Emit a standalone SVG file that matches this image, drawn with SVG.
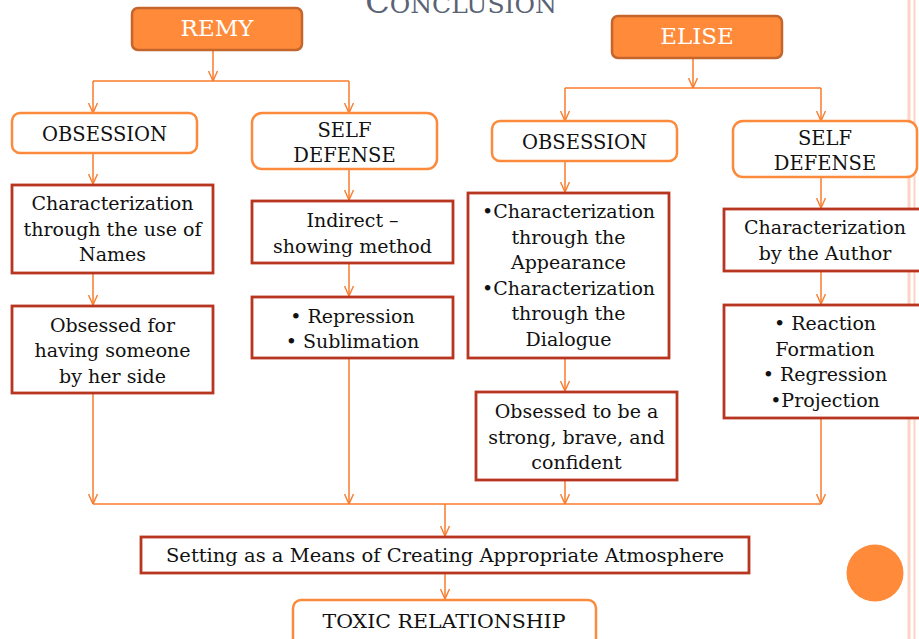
<svg xmlns="http://www.w3.org/2000/svg" width="919" height="639" viewBox="0 0 919 639">
<defs>
<marker id="arr" viewBox="0 0 10 10" refX="10" refY="5" markerWidth="10" markerHeight="10" markerUnits="userSpaceOnUse" orient="auto">
<path d="M0,0.5 L10,5 L0,9.5" fill="none" stroke="#f97b2b" stroke-width="1.4"/>
</marker>
</defs>
<style>
.t{font-family:"DejaVu Serif","Liberation Serif",serif;font-size:19px;fill:#111;text-anchor:middle}
.cap{font-size:19.5px}
.head{fill:#fe8a3a;stroke:#c4652c;stroke-width:2.5}
.ht{font-family:"DejaVu Serif","Liberation Serif",serif;font-size:23px;fill:#fff;text-anchor:middle}
.rb{fill:#fff;stroke:#fb8a3c;stroke-width:2.5}
.sb{fill:#fff;stroke:#b8361f;stroke-width:2.8}
.c{fill:none;stroke:#f97b2b;stroke-width:1.5}
.ca{fill:none;stroke:#f97b2b;stroke-width:1.5;marker-end:url(#arr)}
</style>
<rect width="919" height="639" fill="#fff"/>
<line x1="909" y1="0" x2="909" y2="639" stroke="#fdd3c4" stroke-width="3"/>
<line x1="914.5" y1="0" x2="914.5" y2="639" stroke="#fdd3c4" stroke-width="2"/>
<circle cx="875" cy="573" r="28.5" fill="#fe8a3a"/>
<text x="461" y="13" style="font-family:'DejaVu Serif','Liberation Serif',serif;fill:#5a6374;text-anchor:middle"><tspan font-size="32">C</tspan><tspan font-size="25">ONCLUSION</tspan></text>

<g id="connectors">
<path class="ca" d="M213,50 V81"/>
<path class="c" d="M93,81 H349"/>
<path class="ca" d="M93,81 V113"/>
<path class="ca" d="M349,81 V113"/>
<path class="ca" d="M693,58 V88"/>
<path class="c" d="M565,88 H821"/>
<path class="ca" d="M565,88 V121"/>
<path class="ca" d="M821,88 V121"/>
<path class="ca" d="M93,153 V184"/>
<path class="ca" d="M93,273 V305"/>
<path class="ca" d="M93,393 V504"/>
<path class="ca" d="M349,169 V200"/>
<path class="ca" d="M349,263 V296"/>
<path class="ca" d="M349,358 V504"/>
<path class="ca" d="M565,161 V192"/>
<path class="ca" d="M565,358 V391"/>
<path class="ca" d="M565,480 V504"/>
<path class="ca" d="M821,177 V208"/>
<path class="ca" d="M821,271 V304"/>
<path class="ca" d="M821,418 V504"/>
<path class="c" d="M93,504 H821"/>
<path class="ca" d="M445,504 V536"/>
<path class="ca" d="M445,573 V599"/>
</g>

<g id="remy"><rect class="head" x="132" y="8" width="170" height="42" rx="6"/><text class="ht" x="217" y="36">REMY</text></g>
<g id="elise"><rect class="head" x="612" y="16" width="170" height="42" rx="6"/><text class="ht" x="697" y="44">ELISE</text></g>

<g id="remy-obsession"><rect class="rb" x="12" y="113" width="185" height="40" rx="8"/><text class="t cap" x="104.5" y="141">OBSESSION</text></g>
<g id="remy-selfdefense"><rect class="rb" x="252" y="113" width="185" height="56" rx="10"/><text class="t cap" x="344.5" y="137">SELF</text><text class="t cap" x="344.5" y="162">DEFENSE</text></g>
<g id="elise-obsession"><rect class="rb" x="492" y="121" width="185" height="40" rx="8"/><text class="t cap" x="584.5" y="149">OBSESSION</text></g>
<g id="elise-selfdefense"><rect class="rb" x="733" y="121" width="184" height="56" rx="10"/><text class="t cap" x="825" y="145">SELF</text><text class="t cap" x="825" y="170">DEFENSE</text></g>

<g id="remy-char"><rect class="sb" x="12" y="185" width="201" height="88"/><text class="t" x="112.5" y="210">Characterization</text><text class="t" x="112.5" y="236">through the use of</text><text class="t" x="112.5" y="261">Names</text></g>
<g id="remy-obsessed"><rect class="sb" x="12" y="306" width="201" height="87"/><text class="t" x="112.5" y="332">Obsessed for</text><text class="t" x="112.5" y="357">having someone</text><text class="t" x="112.5" y="383">by her side</text></g>
<g id="remy-indirect"><rect class="sb" x="252" y="201" width="201" height="62"/><text class="t" x="352.5" y="227">Indirect –</text><text class="t" x="352.5" y="253">showing method</text></g>
<g id="remy-mech"><rect class="sb" x="252" y="297" width="201" height="61"/><text class="t" x="352.5" y="323">• Repression</text><text class="t" x="352.5" y="348">• Sublimation</text></g>

<g id="elise-char"><rect class="sb" x="468" y="193" width="201" height="165"/><text class="t" x="568.5" y="218">•Characterization</text><text class="t" x="568.5" y="244">through the</text><text class="t" x="568.5" y="269">Appearance</text><text class="t" x="568.5" y="295">•Characterization</text><text class="t" x="568.5" y="320">through the</text><text class="t" x="568.5" y="346">Dialogue</text></g>
<g id="elise-obsessed"><rect class="sb" x="476" y="392" width="201" height="88"/><text class="t" x="576.5" y="418">Obsessed to be a</text><text class="t" x="576.5" y="444">strong, brave, and</text><text class="t" x="576.5" y="469">confident</text></g>
<g id="elise-author"><rect class="sb" x="724" y="209" width="205" height="62"/><text class="t" x="825" y="234">Characterization</text><text class="t" x="825" y="260">by the Author</text></g>
<g id="elise-mech"><rect class="sb" x="724" y="305" width="205" height="113"/><text class="t" x="825" y="330">• Reaction</text><text class="t" x="825" y="356">Formation</text><text class="t" x="825" y="381">• Regression</text><text class="t" x="825" y="407">•Projection</text></g>

<g id="setting"><rect class="sb" x="141" y="537" width="608" height="36"/><text class="t" x="445" y="562" textLength="558" lengthAdjust="spacingAndGlyphs">Setting as a Means of Creating Appropriate Atmosphere</text></g>
<g id="toxic"><rect class="rb" x="293" y="600" width="303" height="50" rx="8"/><text class="t" x="444" y="628" textLength="243" lengthAdjust="spacingAndGlyphs">TOXIC RELATIONSHIP</text></g>
</svg>
